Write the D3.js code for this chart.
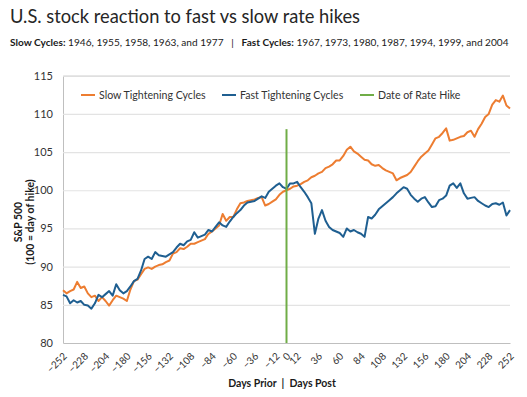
<!DOCTYPE html>
<html><head><meta charset="utf-8">
<script src="https://cdn.jsdelivr.net/npm/d3@7"></script>
<style>
html,body{margin:0;padding:0;background:#fff;}
svg{display:block;font-family:Lato,"Open Sans",sans-serif;}
text{white-space:pre;}
</style></head>
<body>
<svg id="chart" width="527" height="397"></svg>
<script>
const title = "U.S. stock reaction to fast vs slow rate hikes";
const days = d3.range(-252, 253, 4);
const slowCycles = [86.9,86.5,86.8,87.0,88.0,87.2,87.4,86.5,86.0,86.2,85.5,86.0,85.5,84.9,85.6,86.2,86.0,85.8,85.5,87.0,88.1,88.3,89.0,89.7,89.9,89.7,90.0,90.2,90.3,90.6,90.8,91.7,91.9,92.4,92.3,92.6,93.0,93.0,93.2,93.4,93.6,94.3,94.6,95.0,95.4,96.9,96.0,96.5,96.5,97.5,98.3,98.4,98.6,98.7,98.8,99.0,99.1,98.0,98.2,98.5,98.8,99.4,99.8,100.0,100.2,100.5,100.6,100.8,101.1,101.3,101.7,101.9,102.2,102.4,102.9,103.1,103.4,103.9,103.9,104.5,105.3,105.7,105.1,104.8,104.4,104.0,103.9,103.4,103.2,103.3,102.9,102.6,102.4,102.2,101.3,101.6,101.8,102.0,102.4,103.1,103.8,104.4,104.8,105.2,106.0,106.8,107.0,107.5,108.1,106.5,106.6,106.8,107.0,107.1,107.6,107.8,107.0,108.0,108.7,109.6,110.0,111.2,111.8,111.6,112.4,111.1,110.7];
const fastCycles = [86.3,86.1,85.2,85.6,85.3,85.5,85.0,84.9,84.5,85.2,86.3,86.0,86.4,86.8,86.2,87.7,86.9,86.5,86.8,87.4,88.1,88.4,89.5,91.0,91.3,91.0,91.9,91.5,91.4,91.3,91.6,91.9,92.5,93.0,92.8,93.3,93.5,94.5,93.8,94.0,94.2,94.8,94.6,95.2,95.8,95.4,95.2,95.9,96.5,97.0,97.4,98.0,98.4,98.5,98.6,98.9,99.2,99.0,99.8,100.2,100.6,100.9,100.4,100.2,100.9,100.9,101.1,100.4,99.8,99.1,98.3,94.3,96.3,97.4,96.0,95.2,94.8,94.6,94.4,93.9,95.0,94.6,94.8,94.5,94.3,93.9,96.5,96.3,96.8,97.5,97.9,98.3,98.7,99.1,99.6,100.0,100.4,100.2,99.4,98.9,98.5,98.9,99.1,98.4,97.8,97.9,98.7,98.9,99.3,100.6,100.9,100.3,100.9,99.6,98.9,99.0,99.1,98.6,98.3,98.0,97.8,98.2,98.3,98.1,98.4,96.7,97.4];
const rateHikeDay = 0;
const rateHikeTop = 108;
const yTicks = [80,85,90,95,100,105,110,115];
const xTickLabels = [-252,-228,-204,-180,-156,-132,-108,-84,-60,-36,-12,0,12,36,60,84,108,132,156,180,204,228,252];
const seriesNames = ["Slow Tightening Cycles","Fast Tightening Cycles","Date of Rate Hike"];
const colors = ["#ED7D31","#1F5F91","#70AD47"];

const svg = d3.select("#chart");
const L = 63, R = 510, T = 75.7, B = 343;
const x = d3.scaleLinear().domain([-252, 252]).range([L, R]);
const y = d3.scaleLinear().domain([80, 115]).range([B, T]);

// title & subtitle
svg.append("text").attr("x", 10).attr("y", 23).attr("font-size", 18.3).attr("fill", "#262626").text(title);
const sub = svg.append("text").attr("x", 10).attr("y", 46).attr("font-size", 10.1).attr("fill", "#1a1a1a");
sub.append("tspan").attr("font-weight", "bold").text("Slow Cycles:");
sub.append("tspan").text(" 1946, 1955, 1958, 1963, and 1977\u00a0\u00a0\u00a0|\u00a0\u00a0\u00a0");
sub.append("tspan").attr("font-weight", "bold").text("Fast Cycles:");
sub.append("tspan").text(" 1967, 1973, 1980, 1987, 1994, 1999, and 2004");

// grid
const yAxis = d3.axisLeft(y).tickValues(yTicks).tickSize(-(R - L)).tickPadding(10).tickFormat(d3.format("d"));
const gy = svg.append("g").attr("transform", `translate(${L},0)`).call(yAxis);
gy.select(".domain").attr("stroke", "#bfbfbf");
gy.selectAll(".tick line").attr("stroke", "#e3e3e3").attr("stroke-width", 1.2);
gy.selectAll(".tick text").attr("font-size", 11).attr("fill", "#333").attr("font-family", "Lato,sans-serif");

// x axis
const xAxis = d3.axisBottom(x).tickValues(xTickLabels).tickSize(0).tickFormat(d3.format("d"));
const gx = svg.append("g").attr("transform", `translate(0,${B})`).call(xAxis);
gx.select(".domain").attr("stroke", "#bfbfbf").attr("stroke-width", 1.2);
gx.selectAll(".tick text")
  .attr("font-size", 10).attr("fill", "#333").attr("font-family", "Lato,sans-serif")
  .attr("text-anchor", "end").attr("dy", 0).attr("y", 0)
  .attr("transform", "translate(4,14) rotate(-45)");

// lines
const line = d3.line().x((d, i) => x(days[i])).y(d => y(d));
svg.append("path").datum(slowCycles).attr("fill", "none").attr("stroke", colors[0]).attr("stroke-width", 2).attr("stroke-linejoin", "round").attr("d", line);
svg.append("path").datum(fastCycles).attr("fill", "none").attr("stroke", colors[1]).attr("stroke-width", 2).attr("stroke-linejoin", "round").attr("d", line);
svg.append("line").attr("x1", x(rateHikeDay)).attr("x2", x(rateHikeDay)).attr("y1", y(rateHikeTop)).attr("y2", y(80))
  .attr("stroke", colors[2]).attr("stroke-width", 2);

// legend
const legendX = [81, 222, 360];
seriesNames.forEach((n, i) => {
  svg.append("line").attr("x1", legendX[i]).attr("x2", legendX[i] + 14).attr("y1", 95).attr("y2", 95).attr("stroke", colors[i]).attr("stroke-width", 2);
  svg.append("text").attr("x", legendX[i] + 18).attr("y", 99).attr("font-size", 10.6).attr("fill", "#333").text(n);
});

// axis titles
const yt = svg.append("text").attr("transform", "translate(24,222) rotate(-90)").attr("text-anchor", "middle").attr("font-size", 10.5).attr("font-weight", "bold").attr("fill", "#1a1a1a");
yt.append("tspan").attr("x", 0).attr("dy", -2).text("S&P 500");
yt.append("tspan").attr("x", 0).attr("dy", 12).text("(100 = day of hike)");
svg.append("text").attr("x", 282).attr("y", 387).attr("text-anchor", "middle").attr("font-size", 10.5).attr("font-weight", "bold").attr("fill", "#1a1a1a").text("Days Prior\u00a0\u00a0|\u00a0\u00a0Days Post");
</script>
</body></html>
